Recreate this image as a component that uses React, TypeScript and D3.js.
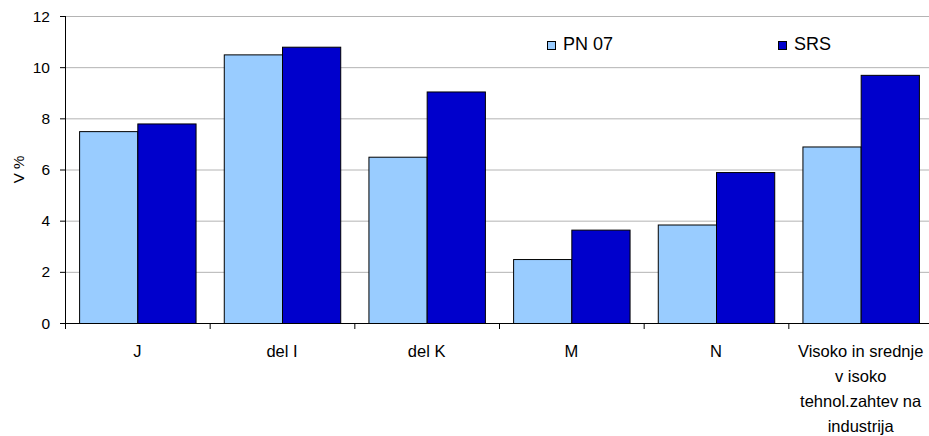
import React, { useEffect, useRef } from "react";
import * as d3 from "d3";

const categories = [
  ["J"],
  ["del I"],
  ["del K"],
  ["M"],
  ["N"],
  ["Visoko in srednje", "v isoko", "tehnol.zahtev na", "industrija"],
];
const seriesNames = ["PN 07", "SRS"];
const pn07 = [7.5, 10.5, 6.5, 2.5, 3.85, 6.9];
const srs = [7.8, 10.8, 9.05, 3.65, 5.9, 9.7];
const yTicks = [0, 2, 4, 6, 8, 10, 12];
const colors = ["#99ccff", "#0000cc"];

const W = 929;
const H = 436;

const App: React.FC = () => {
  const svgRef = useRef<SVGSVGElement | null>(null);

  useEffect(() => {
    if (!svgRef.current) return;
    const svg = d3.select(svgRef.current);
    svg.selectAll("*").remove();

    const left = 65;
    const right = 933;
    const top = 16;
    const bottom = 323;
    const font = "'Liberation Sans', Arial, sans-serif";

    const x = d3
      .scaleBand<number>()
      .domain(d3.range(categories.length))
      .range([left, right])
      .paddingInner(0.195)
      .paddingOuter(0.0975);
    const x1 = d3.scaleBand<number>().domain([0, 1]).range([0, x.bandwidth()]);
    const y = d3.scaleLinear().domain([0, 12]).range([bottom, top]);

    // gridlines
    svg
      .append("g")
      .selectAll("line")
      .data(yTicks.filter((t) => t > 0))
      .join("line")
      .attr("x1", left)
      .attr("x2", W)
      .attr("y1", (d) => y(d) + 0.5)
      .attr("y2", (d) => y(d) + 0.5)
      .attr("stroke", "#b4b4b4")
      .attr("stroke-width", 1);

    // bars
    const data = [pn07, srs];
    data.forEach((vals, s) => {
      svg
        .append("g")
        .selectAll("rect")
        .data(vals)
        .join("rect")
        .attr("x", (_, i) => (x(i) as number) + (x1(s) as number) + 0.5)
        .attr("y", (d) => y(d) + 0.5)
        .attr("width", x1.bandwidth())
        .attr("height", (d) => bottom - y(d))
        .attr("fill", colors[s])
        .attr("stroke", "#000")
        .attr("stroke-width", 1);
    });

    // y axis
    const yAxis = svg.append("g");
    yAxis
      .append("line")
      .attr("x1", left + 0.5)
      .attr("x2", left + 0.5)
      .attr("y1", top)
      .attr("y2", bottom + 6)
      .attr("stroke", "#000");
    yAxis
      .selectAll("line.tick")
      .data(yTicks)
      .join("line")
      .attr("class", "tick")
      .attr("x1", left - 5)
      .attr("x2", left)
      .attr("y1", (d) => y(d) + 0.5)
      .attr("y2", (d) => y(d) + 0.5)
      .attr("stroke", "#000");
    yAxis
      .selectAll("text")
      .data(yTicks)
      .join("text")
      .attr("x", left - 15)
      .attr("y", (d) => y(d) + 5.5)
      .attr("text-anchor", "end")
      .attr("font-family", font)
      .attr("font-size", 15.5)
      .text((d) => d);

    svg
      .append("text")
      .attr("transform", `translate(24,${(top + bottom) / 2}) rotate(-90)`)
      .attr("text-anchor", "middle")
      .attr("font-family", font)
      .attr("font-size", 15)
      .text("V %");

    // x axis
    const xAxis = svg.append("g");
    xAxis
      .append("line")
      .attr("x1", left)
      .attr("x2", W)
      .attr("y1", bottom + 0.5)
      .attr("y2", bottom + 0.5)
      .attr("stroke", "#000");
    const step = x.step();
    xAxis
      .selectAll("line.tick")
      .data(d3.range(categories.length))
      .join("line")
      .attr("class", "tick")
      .attr("x1", (i) => (x(i) as number) - (step - x.bandwidth()) / 2 + 0.5)
      .attr("x2", (i) => (x(i) as number) - (step - x.bandwidth()) / 2 + 0.5)
      .attr("y1", bottom)
      .attr("y2", bottom + 6)
      .attr("stroke", "#000");

    const labels = xAxis
      .selectAll("text")
      .data(categories)
      .join("text")
      .attr("text-anchor", "middle")
      .attr("font-family", font)
      .attr("font-size", 16.5)
      .attr("y", 357);
    labels
      .selectAll("tspan")
      .data((d, i) => d.map((t) => ({ t, i })))
      .join("tspan")
      .attr("x", (d) => (x(d.i) as number) + x.bandwidth() / 2)
      .attr("dy", (_, j) => (j === 0 ? 0 : 25))
      .text((d) => d.t);

    // legend
    const legendX = [547, 778];
    seriesNames.forEach((name, s) => {
      svg
        .append("rect")
        .attr("x", legendX[s] + 0.5)
        .attr("y", 41.5)
        .attr("width", 8)
        .attr("height", 8)
        .attr("fill", colors[s])
        .attr("stroke", "#000");
      svg
        .append("text")
        .attr("x", legendX[s] + 16)
        .attr("y", 50)
        .attr("font-family", font)
        .attr("font-size", 18)
        .text(name);
    });
  }, []);

  return (
    <svg
      ref={svgRef}
      width={W}
      height={H}
      style={{ position: "absolute", left: 0, top: 0, background: "#fff" }}
    />
  );
};

export default App;
